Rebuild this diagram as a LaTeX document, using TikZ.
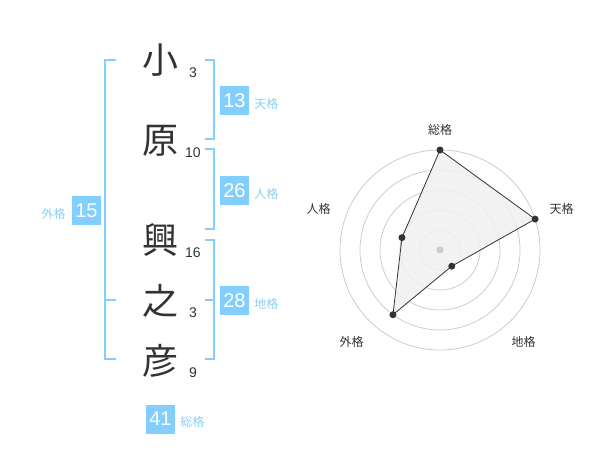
\documentclass[tikz,border=0pt]{standalone}
\usepackage{fontspec}
\setmainfont{Liberation Sans}
\newfontfamily\jp{Noto Sans CJK JP}
\usetikzlibrary{positioning}
\definecolor{kakublue}{HTML}{82CEFF}
\definecolor{kakutext}{HTML}{8ACFF5}
\definecolor{ink}{HTML}{333333}
\tikzset{
x=1pt, y=1pt, % one unit is one pixel
kanji/.style={text=ink, font=\jp\fontsize{36}{36}\selectfont, inner sep=0pt}, % the name characters
stroke/.style={text=ink, font=\fontsize{14}{14}\selectfont, inner sep=0pt}, % stroke counts
kakubox/.style={fill=kakublue, text=white, minimum size=29pt, inner sep=0pt, font=\fontsize{20}{20}\selectfont},
kakulabel/.style={text=kakutext, font=\jp\fontsize{12}{12}\selectfont, inner sep=0pt},
bracket/.style={draw=kakublue, line width=2pt},
ring/.style={draw=gray!45, line width=0.7pt},
radarlabel/.style={text=ink, font=\jp\fontsize{12}{12}\selectfont, inner sep=0pt},
}

\begin{document}
\begin{tikzpicture}
\useasboundingbox (0,0) rectangle (600,-470);
% name
\node[kanji] (c1) at (160,-60) {小};
\node[kanji] (c2) at (160,-141) {原};
\node[kanji] (c3) at (160,-240) {興};
\node[kanji] (c4) at (160,-301) {之};
\node[kanji] (c5) at (160,-361) {彦};
\node[stroke] (n1) at (193,-73) {3};
\node[stroke] (n2) at (193,-153) {10};
\node[stroke] (n3) at (193,-253) {16};
\node[stroke] (n4) at (193,-313) {3};
\node[stroke] (n5) at (193,-373) {9};
% brackets
\draw[bracket] (205,-60) -- (214,-60) -- (214,-139) -- (205,-139);
\draw[bracket] (205,-149) -- (214,-149) -- (214,-229) -- (205,-229);
\draw[bracket] (205,-240) -- (214,-240) -- (214,-359) -- (205,-359);
\draw[bracket] (205,-300) -- (214,-300);
\draw[bracket] (116,-60) -- (105,-60) -- (105,-359) -- (116,-359);
\draw[bracket] (105,-300) -- (116,-300);
% scores
\node[kakubox] (ten) at (234.5,-100.5) {13};
\node[kakulabel, right=5pt of ten, yshift=-3pt] (tenl) {天格};
\node[kakubox] (jin) at (234.5,-190.5) {26};
\node[kakulabel, right=5pt of jin, yshift=-3pt] (jinl) {人格};
\node[kakubox] (chi) at (234.5,-300.5) {28};
\node[kakulabel, right=5pt of chi, yshift=-3pt] (chil) {地格};
\node[kakubox] (gai) at (86.5,-210.5) {15};
\node[kakulabel, left=6pt of gai, yshift=-3pt] (gail) {外格};
\node[kakubox] (sou) at (160.5,-419) {41};
\node[kakulabel, right=5pt of sou, yshift=-3pt] (soul) {総格};
% radar chart
\begin{scope}[shift={(440,-250)}]
\foreach \r in {20,40,60,80,100}
  \draw[ring] (0,0) circle (\r);
\coordinate (psou) at (90:100);
\coordinate (pten) at (18:100);
\coordinate (pchi) at (-54:20);
\coordinate (pgai) at (-126:80);
\coordinate (pjin) at (162:40);
\draw[fill=gray!12, fill opacity=0.85, draw=ink, line width=0.8pt] (psou) -- (pten) -- (pchi) -- (pgai) -- (pjin) -- cycle;
\fill[gray!40] (0,0) circle (3.5);
\foreach \p in {psou,pten,pchi,pgai,pjin}
  \fill[ink] (\p) circle (3.5);
\node[radarlabel] (lsou) at (0,120) {総格};
\node[radarlabel] (lten) at (121.5,41.5) {天格};
\node[radarlabel] (lchi) at (83.5,-91.5) {地格};
\node[radarlabel] (lgai) at (-88.5,-91.5) {外格};
\node[radarlabel] (ljin) at (-121.5,41.5) {人格};
\end{scope}
\end{tikzpicture}
\end{document}
